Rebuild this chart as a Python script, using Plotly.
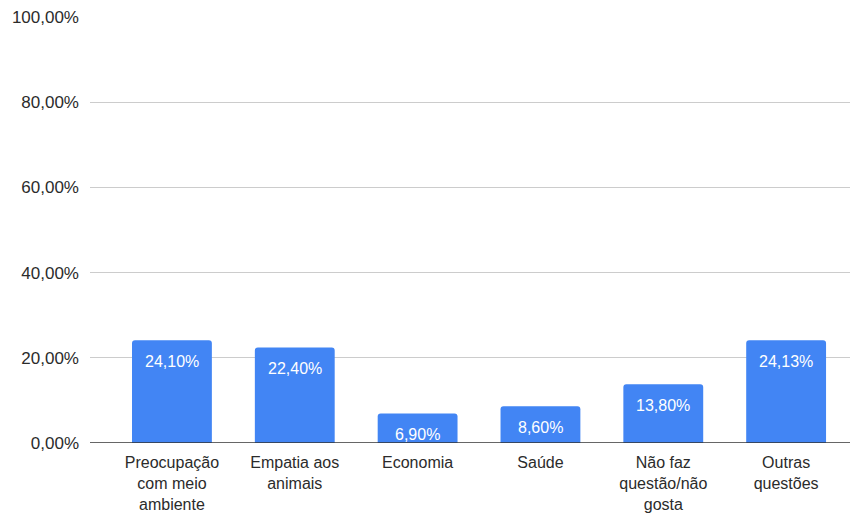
import plotly.graph_objects as go

categories = [
    "Preocupação<br>com meio<br>ambiente",
    "Empatia aos<br>animais",
    "Economia",
    "Saúde",
    "Não faz<br>questão/não<br>gosta",
    "Outras<br>questões",
]
values = [24.10, 22.40, 6.90, 8.60, 13.80, 24.13]
y_ticks = [0, 20, 40, 60, 80, 100]

FONT = "Liberation Sans, Arial, sans-serif"
BAR_COLOR = "#4285F4"
TEXT_COLOR = "#2b2b2b"

fig = go.Figure()
fig.add_trace(go.Bar(
    x=list(range(len(categories))),
    y=values,
    marker=dict(color=BAR_COLOR, cornerradius=3, line=dict(width=0)),
    hoverinfo="skip",
))

# value labels placed inside each bar, near its top
for i, v in enumerate(values):
    fig.add_annotation(
        x=i, y=v, text=f"{v:.2f}%".replace(".", ","),
        showarrow=False, yanchor="middle", yshift=-21,
        font=dict(family=FONT, size=16, color="white"),
    )

fig.update_layout(
    width=858, height=515,
    margin=dict(l=90, r=8, t=17, b=72),
    plot_bgcolor="white", paper_bgcolor="white",
    bargap=0.35,
    showlegend=False,
    font=dict(family=FONT, size=17, color=TEXT_COLOR),
    xaxis=dict(
        tickmode="array",
        tickvals=list(range(len(categories))),
        ticktext=categories,
        range=[-0.667, 5.52],
        showgrid=False, zeroline=False, showline=False,
        ticks="", ticklabelstandoff=8, automargin=False,
        tickfont=dict(size=16, color=TEXT_COLOR),
    ),
    yaxis=dict(
        range=[0, 100],
        tickmode="array",
        tickvals=y_ticks,
        ticktext=[f"{t:.2f}%".replace(".", ",") for t in y_ticks],
        showgrid=True, gridcolor="#cccccc", gridwidth=1,
        zeroline=False, showline=False, ticks="",
        ticklabelstandoff=10, automargin=False,
        tickfont=dict(size=17, color=TEXT_COLOR),
    ),
    shapes=[dict(
        type="line", xref="paper", yref="y",
        x0=0, x1=1, y0=0, y1=0,
        line=dict(color="#333333", width=1.5),
    )],
)

fig.write_html("out.html")
